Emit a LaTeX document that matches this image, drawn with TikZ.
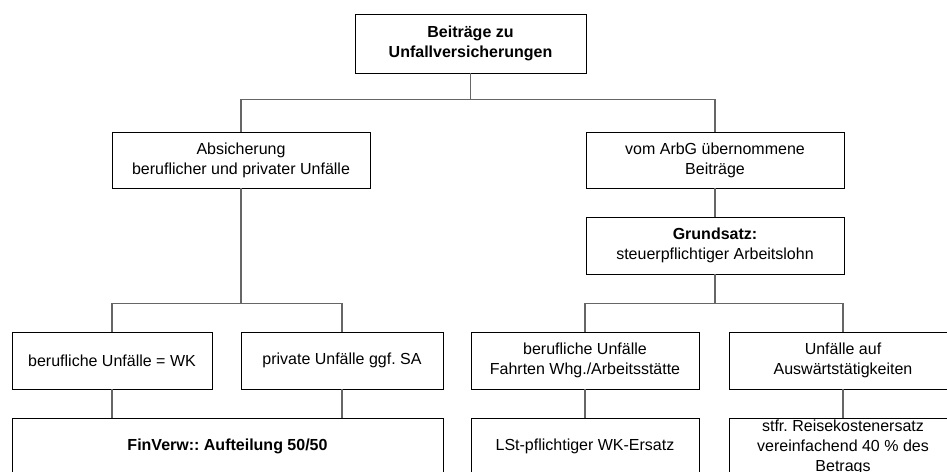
\documentclass[tikz,border=0pt]{standalone}
\usepackage{fontspec}
\setmainfont{Liberation Sans}
\frenchspacing
\begin{document}
\begin{tikzpicture}[x=1pt, y=-1pt,
    box/.style={draw=black, line width=0.9pt, rectangle, align=center, inner sep=2pt,
        font=\fontsize{16}{20}\selectfont, minimum height=57pt},
    conn/.style={draw=black!60, line width=1.1pt}]
    \useasboundingbox (0,0) rectangle (947,471);
    \clip (0,0) rectangle (947,471);
    \node[box, minimum width=231, minimum height=59, font=\bfseries\fontsize{16}{20}\selectfont] (top) at (470.5,43.5) {Beiträge zu\\Unfallversicherungen};
    \node[box, minimum width=258, minimum height=56] (absich) at (241,160) {Absicherung\\beruflicher und privater Unfälle};
    \node[box, minimum width=258, minimum height=56] (vom) at (715,160) {vom ArbG übernommene\\Beiträge};
    \node[box, minimum width=258] (grund) at (715,245.5) {\textbf{Grundsatz:}\\steuerpflichtiger Arbeitslohn};
    \node[box, minimum width=200] (bwk) at (112,360.5) {berufliche Unfälle = WK};
    \node[box, minimum width=202] (priv) at (342,360.5) {private Unfälle ggf. SA};
    \node[box, minimum width=228] (fahrt) at (585,360.5) {berufliche Unfälle\\Fahrten Whg./Arbeitsstätte};
    \node[box, minimum width=228] (ausw) at (843,360.5) {Unfälle auf\\Auswärtstätigkeiten};
    \node[box, minimum width=431] (finv) at (227.5,446.5) {\textbf{FinVerw:: Aufteilung 50/50}};
    \node[box, minimum width=228] (lst) at (585,446.5) {LSt-pflichtiger WK-Ersatz};
    \node[box, minimum width=228] (stfr) at (843,447.5) {stfr. Reisekostenersatz\\vereinfachend 40 \% des\\Betrags};
    % verbindungen
    \draw[conn] (top.south) -- ++(0,26) -| (absich.north);
    \draw[conn] (top.south) -- ++(0,26) -| (vom.north);
    \draw[conn] (vom.south) -- (grund.north);
    \draw[conn] (absich.south) -- ++(0,115) -| (bwk.north);
    \draw[conn] (absich.south) -- ++(0,115) -| (priv.north);
    \draw[conn] (grund.south) -- ++(0,29) -| (fahrt.north);
    \draw[conn] (grund.south) -- ++(0,29) -| (ausw.north);
    \draw[conn] (bwk.south) -- (bwk.south |- finv.north);
    \draw[conn] (priv.south) -- (priv.south |- finv.north);
    \draw[conn] (fahrt.south) -- (lst.north);
    \draw[conn] (ausw.south) -- (stfr.north);
\end{tikzpicture}
\end{document}
